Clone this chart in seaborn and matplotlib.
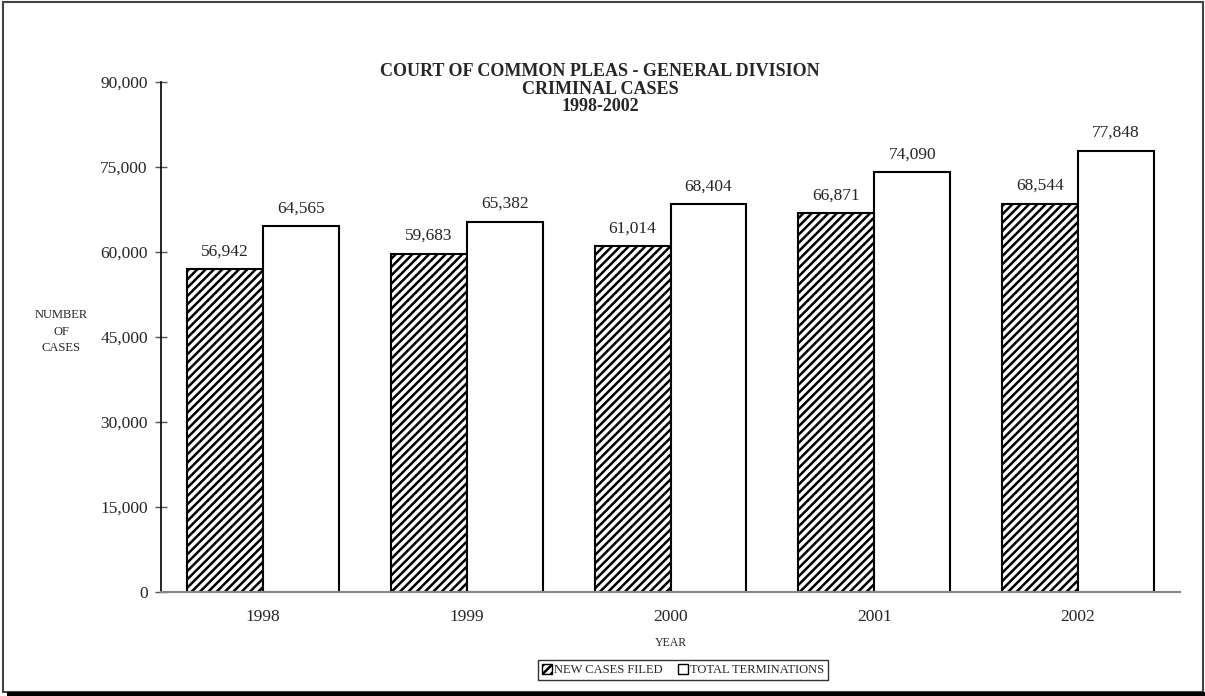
import pandas as pd
import seaborn as sns
import matplotlib.pyplot as plt
from matplotlib.patches import Patch, Rectangle

years = ["1998", "1999", "2000", "2001", "2002"]
new_cases = [56942, 59683, 61014, 66871, 68544]
terminations = [64565, 65382, 68404, 74090, 77848]
series = ["NEW CASES FILED", "TOTAL TERMINATIONS"]
y_ticks = [0, 15000, 30000, 45000, 60000, 75000, 90000]

df = pd.DataFrame({
    "year": years * 2,
    "cases": new_cases + terminations,
    "series": [series[0]] * 5 + [series[1]] * 5,
})

sns.set_style("white")
plt.rcParams["font.family"] = ["Liberation Serif", "DejaVu Serif"]
plt.rcParams["hatch.linewidth"] = 1.8

fig = plt.figure(figsize=(12.05, 6.96), dpi=100)
ax = fig.add_axes([161 / 1205, 1 - 592 / 696, 1019 / 1205, 510 / 696])

sns.barplot(data=df, x="year", y="cases", hue="series", hue_order=series,
            palette={series[0]: "white", series[1]: "white"},
            edgecolor="black", linewidth=1.5, width=0.745, ax=ax, legend=False)

for bar in ax.containers[0]:
    bar.set_hatch("////")

for cont in ax.containers:
    ax.bar_label(cont, labels=[f"{v:,.0f}" for v in cont.datavalues],
                 padding=7, fontsize=12.5)

ax.set_xlim(-0.5, 4.5)
ax.set_ylim(0, 90000)
ax.set_yticks(y_ticks)
ax.set_yticklabels([f"{t:,}" for t in y_ticks], fontsize=12.5)
ax.tick_params(axis="x", length=0, labelsize=12.5, pad=12)
ax.tick_params(axis="y", length=8, width=1, color="#555555", direction="inout",
               pad=5.5, left=True)
ax.set_xlabel("YEAR", fontsize=8.5, labelpad=9)
ax.set_ylabel("NUMBER\nOF\nCASES", fontsize=9, rotation=0, labelpad=0,
              linespacing=1.5)
ax.yaxis.set_label_coords(-0.098, 0.51)
ax.yaxis.label.set_verticalalignment("center")

sns.despine(ax=ax, top=True, right=True)
ax.spines["left"].set_color("black")
ax.spines["left"].set_linewidth(1.2)
ax.spines["bottom"].set_color("#888888")
ax.spines["bottom"].set_linewidth(1.5)

fig.text(0.498, 1 - 89 / 696, "COURT OF COMMON PLEAS - GENERAL DIVISION\nCRIMINAL CASES\n1998-2002",
         ha="center", va="center", fontsize=13, fontweight="bold", linespacing=1.03)

handles = [Patch(facecolor="white", edgecolor="black", hatch="////", label=series[0]),
           Patch(facecolor="white", edgecolor="black", label=series[1])]
leg = fig.legend(handles=handles, loc="center", bbox_to_anchor=(0.567, 0.037),
                 ncol=2, fontsize=9, frameon=True, fancybox=False,
                 handlelength=0.8, handleheight=0.8, handletextpad=0.2,
                 columnspacing=1.2, borderpad=0.3, edgecolor="black")
leg.get_frame().set_linewidth(1.0)

# page frame with drop shadow
fig.patches.append(Rectangle((3 / 1205, 1 - 692 / 696), 1200 / 1205, 690 / 696,
                             transform=fig.transFigure, fill=False,
                             edgecolor="#444444", linewidth=1.5))
fig.patches.append(Rectangle((7 / 1205, 0), 1198 / 1205, 4 / 696,
                             transform=fig.transFigure, facecolor="black",
                             edgecolor="none"))

fig.savefig("out.png", dpi=100)
